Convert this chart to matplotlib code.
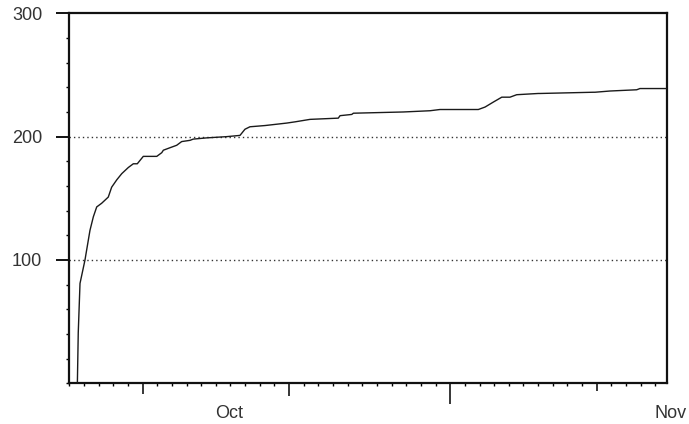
import matplotlib.pyplot as plt
from matplotlib.ticker import MultipleLocator

plt.rcParams['font.family'] = ['Liberation Sans', 'DejaVu Sans']

# cumulative total, sampled along the curve (x in days from the left edge)
days = [0.55, 0.61, 0.73, 1.07, 1.14, 1.41, 1.64, 1.87, 2.21, 2.66, 2.89, 3.24,
        3.58, 4.03, 4.37, 4.64, 5.05, 5.97, 6.31, 6.42, 6.87, 7.33, 7.67, 8.24,
        8.46, 9.38, 10.74, 11.65, 11.99, 12.33, 13.36, 14.84, 15.41, 16.43,
        18.36, 18.48, 19.28, 19.39, 22.80, 24.62, 25.30, 27.92, 28.38, 28.94,
        29.52, 30.08, 30.54, 32.01, 32.13, 35.77, 35.88, 36.91, 38.73, 38.95,
        40.8]
total = [0, 41, 81, 100, 105, 124, 135, 143, 146, 151, 159, 165,
         170, 175, 178, 178, 184, 184, 187, 189, 191, 193, 196, 197,
         198, 199, 200, 201, 206, 208, 209, 211, 212, 214,
         215, 217, 218, 219, 220, 221, 222, 222, 224, 228,
         232, 232, 234, 235, 235, 236, 236, 237, 238, 239,
         239]

gridlines = [100, 200]
big_ticks = [5, 15, 26, 36]
big_tick_len = [8, 9, 15, 5.5]
month_names = ['Oct', 'Nov']
month_pos = [10.9, 41.07]

fig = plt.figure(figsize=(6.89, 4.24), dpi=100)
ax = fig.add_axes([0.1006, 0.096, 0.8675, 0.8726])

for g in gridlines:
    ax.axhline(g, color='#333333', lw=1.0, dashes=(1, 2.2), zorder=1)
ax.plot(days, total, color='#1a1a1a', lw=1.0, zorder=3)

ax.set_xlim(0, 40.8)
ax.set_ylim(0, 300)

for s in ax.spines.values():
    s.set_linewidth(1.6)
    s.set_color('#111111')

ax.set_yticks([100, 200, 300])
ax.yaxis.set_minor_locator(MultipleLocator(20))
ax.tick_params(axis='y', which='major', direction='out', length=9.4, width=1.3,
               pad=10, labelsize=13, labelcolor='#333333')
ax.tick_params(axis='y', which='minor', direction='out', length=2, width=1.0)

ax.set_xticks(big_ticks)
ax.set_xticklabels([''] * len(big_ticks))
ax.xaxis.set_minor_locator(MultipleLocator(1))
ax.tick_params(axis='x', which='major', direction='out', width=1.1)
ax.tick_params(axis='x', which='minor', direction='out', length=2.5, width=1.0)
for t, ln in zip(ax.xaxis.get_major_ticks(), big_tick_len):
    t.tick1line.set_markersize(ln)

for name, pos in zip(month_names, month_pos):
    ax.annotate(name, xy=(pos, 0), xycoords=ax.get_xaxis_transform(),
                xytext=(0, -25), textcoords='offset points',
                ha='center', va='baseline', fontsize=13, color='#333333',
                annotation_clip=False)

fig.savefig('out.png', dpi=100)
